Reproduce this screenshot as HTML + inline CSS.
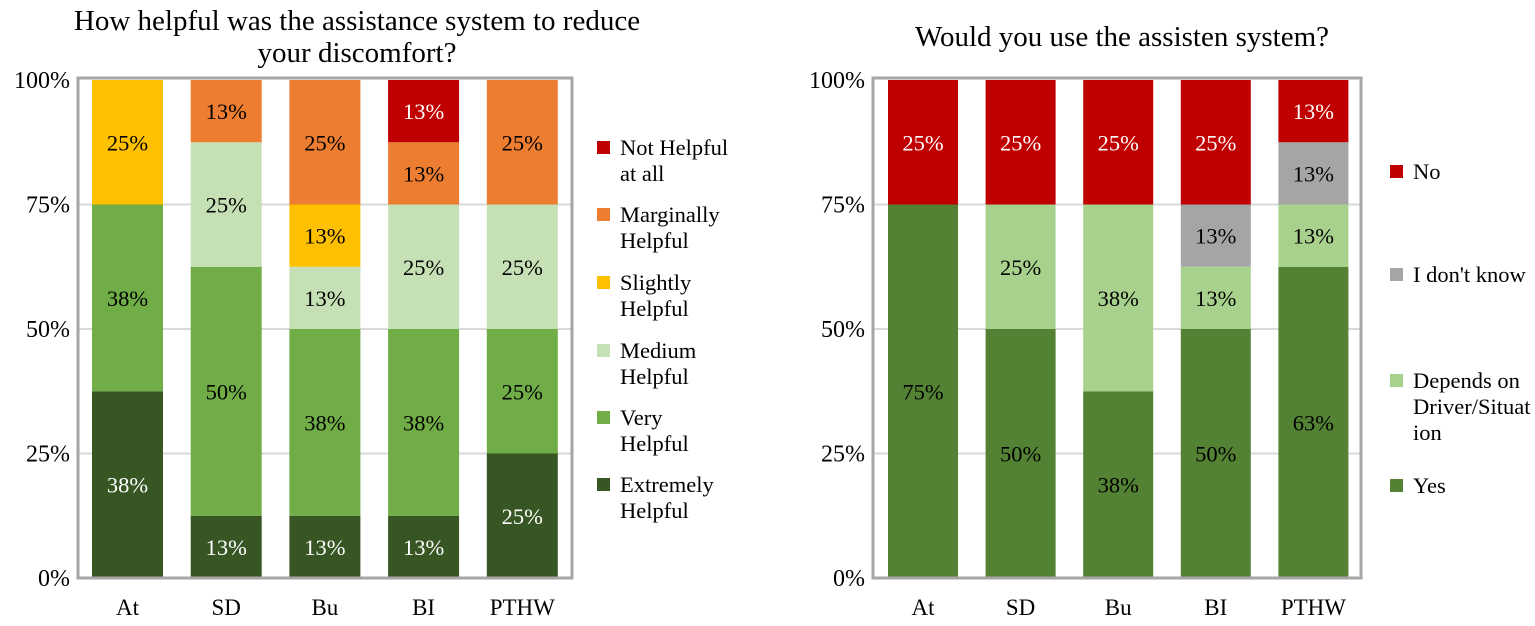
<!DOCTYPE html>
<html><head><meta charset="utf-8"><style>
body{margin:0;background:#fff;}
svg{display:block;}
text{font-family:"Liberation Serif","Times New Roman",serif;}
</style></head><body>
<svg width="1535" height="626" viewBox="0 0 1535 626" id="root" font-family="Liberation Serif, serif">
<text x="357" y="30" font-size="29" text-anchor="middle">How helpful was the assistance system to reduce</text>
<text x="357" y="62" font-size="29" text-anchor="middle">your discomfort?</text>
<text x="1122" y="46" font-size="29" text-anchor="middle">Would you use the assisten system?</text>
<g id="left"></g><g id="right"></g>
</svg>
<script>
const categories = ["At","SD","Bu","BI","PTHW"];
const ticks = [0,25,50,75,100];
const leftSeriesNames = ["Extremely Helpful","Very Helpful","Medium Helpful","Slightly Helpful","Marginally Helpful","Not Helpful at all"];
const leftExtremely = [37.5,12.5,12.5,12.5,25];
const leftVery = [37.5,50,37.5,37.5,25];
const leftMedium = [0,25,12.5,25,25];
const leftSlightly = [25,0,12.5,0,0];
const leftMarginally = [0,12.5,25,12.5,25];
const leftNot = [0,0,0,12.5,0];
const rightSeriesNames = ["Yes","Depends on Driver/Situation","I don't know","No"];
const rightYes = [75,50,37.5,50,62.5];
const rightDepends = [0,25,37.5,12.5,12.5];
const rightDontKnow = [0,0,0,12.5,12.5];
const rightNo = [25,25,25,25,12.5];

const NS="http://www.w3.org/2000/svg";
function mk(tag,attrs,parent,txt){const e=document.createElementNS(NS,tag);for(const k in attrs)e.setAttribute(k,attrs[k]);if(txt!==undefined)e.textContent=txt;parent.appendChild(e);return e;}

function drawChart(g,cfg){
  const y=v=>cfg.y0-(v/100)*(cfg.y0-cfg.y1);
  const x=i=>cfg.firstBar+i*cfg.step;
  ticks.forEach(t=>{
    if(t>0&&t<100){const l=mk("line",{x1:cfg.fx0,x2:cfg.fx1,y1:y(t),y2:y(t),stroke:"#d9d9d9","stroke-width":2},g);
      
      }
    const tl=mk("text",{x:cfg.fx0-8,y:y(t)+8,"font-size":24,"text-anchor":"end"},g,t+"%");
    
    
  });
  categories.forEach((c,i)=>{
    let acc=0;
    cfg.series.forEach((s,si)=>{
      const v=s[i]; if(v<=0)return;
      const r=mk("rect",{x:x(i),y:y(acc+v),width:cfg.bw,height:y(acc)-y(acc+v),fill:cfg.colors[si]},g);
      
      
      const t=mk("text",{x:x(i)+cfg.bw/2,y:(y(acc)+y(acc+v))/2+8,"font-size":22.5,"text-anchor":"middle",fill:cfg.textColors[si]},g,Math.round(v)+"%");
      
      
      acc+=v;
    });
    const cl=mk("text",{x:x(i)+cfg.bw/2,y:cfg.y0+37,"font-size":23,"text-anchor":"middle"},g,c);
    
    
  });
  const fr=mk("rect",{x:cfg.fx0,y:cfg.y1-2,width:cfg.fx1-cfg.fx0,height:cfg.y0-cfg.y1+2,fill:"none",stroke:"#a6a6a6","stroke-width":3},g);
  
  
  cfg.legend.forEach(le=>{
    const sq=mk("rect",{x:cfg.lx,y:le.y-14,width:13,height:13,fill:le.color},g);
    
    
    le.lines.forEach((ln,k)=>{
      const t=mk("text",{x:cfg.lx+23,y:le.y+k*26,"font-size":22.5},g,ln);
      
      
    });
  });
}
drawChart(document.getElementById("left"),{
  y0:578,y1:80,fx0:78,fx1:572,firstBar:92,step:98.7,bw:71,
  series:[leftExtremely,leftVery,leftMedium,leftSlightly,leftMarginally,leftNot],
  colors:["#375623","#70ad47","#c5e0b4","#ffc000","#ed7d31","#c00000"],
  textColors:["#fff","#000","#000","#000","#000","#fff"],
  lx:597,
  legend:[
    {y:155,color:"#c00000",lines:["Not Helpful","at all"]},
    {y:222,color:"#ed7d31",lines:["Marginally","Helpful"]},
    {y:290,color:"#ffc000",lines:["Slightly","Helpful"]},
    {y:358,color:"#c5e0b4",lines:["Medium","Helpful"]},
    {y:425,color:"#70ad47",lines:["Very","Helpful"]},
    {y:492,color:"#375623",lines:["Extremely","Helpful"]}
  ]
});
drawChart(document.getElementById("right"),{
  y0:578,y1:80,fx0:873,fx1:1361,firstBar:888,step:97.6,bw:70,
  series:[rightYes,rightDepends,rightDontKnow,rightNo],
  colors:["#548235","#a9d18e","#a5a5a5","#c00000"],
  textColors:["#000","#000","#000","#fff"],
  lx:1390,
  legend:[
    {y:179,color:"#c00000",lines:["No"]},
    {y:282,color:"#a5a5a5",lines:["I don't know"]},
    {y:388,color:"#a9d18e",lines:["Depends on","Driver/Situat","ion"]},
    {y:493,color:"#548235",lines:["Yes"]}
  ]
});
</script>
</body></html>
